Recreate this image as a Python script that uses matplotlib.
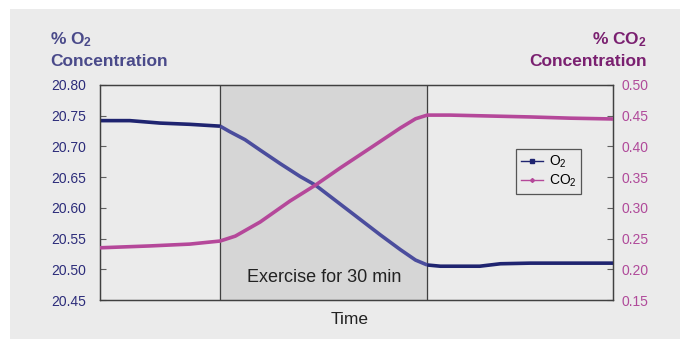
import matplotlib
matplotlib.use("Agg")
import matplotlib.pyplot as plt
from matplotlib.patches import Rectangle
from matplotlib.lines import Line2D
import numpy as np

plt.rcParams['font.family'] = ['Liberation Sans', 'DejaVu Sans']
plt.rcParams['mathtext.fontset'] = 'custom'
plt.rcParams['mathtext.rm'] = 'Liberation Sans'
plt.rcParams['mathtext.it'] = 'Liberation Sans'
plt.rcParams['mathtext.bf'] = 'Liberation Sans:bold'

# ---- data (minutes) ----
exercise_start = 17.4
exercise_end = 47.4
time_max = 74.3

o2_time = [0, 4.3, 8.7, 13.0, 17.4, 18.8, 21.0, 23.2, 26.1, 29.0, 31.2, 36.2,
           40.6, 43.5, 45.7, 47.4, 49.3, 55.0, 58.0, 62.3, 68.1, 74.3]
o2_vals = [20.742, 20.742, 20.738, 20.736, 20.733, 20.724, 20.711, 20.694, 20.672,
           20.651, 20.637, 20.594, 20.556, 20.532, 20.515, 20.507, 20.505, 20.505,
           20.509, 20.510, 20.510, 20.510]

co2_time = [0, 7.2, 13.0, 17.4, 19.6, 23.2, 27.5, 31.2, 34.8, 39.1, 43.5, 45.7,
            47.4, 50.7, 56.5, 62.3, 68.1, 74.3]
co2_vals = [0.235, 0.238, 0.241, 0.246, 0.254, 0.277, 0.311, 0.337, 0.365, 0.397,
            0.430, 0.445, 0.451, 0.451, 0.4495, 0.448, 0.446, 0.4447]

o2_ticks = [20.45, 20.50, 20.55, 20.60, 20.65, 20.70, 20.75, 20.80]
co2_ticks = [0.15, 0.20, 0.25, 0.30, 0.35, 0.40, 0.45, 0.50]

# ---- styling ----
BG = '#ebebeb'
SHADE = '#d6d6d6'
O2_COL = '#1f2470'
O2_COL_EX = '#4b4d9d'
CO2_COL = '#b5489a'
LEFT_TXT = '#2c2c7a'
RIGHT_TXT = '#b04a9a'
TITLE_L = '#4a4a8a'
TITLE_R = '#7a2070'

fig = plt.figure(figsize=(6.8, 3.4), dpi=100)
fig.patch.set_facecolor('white')
fig.patches.append(Rectangle((10/680, 1/340), 670/680, 1 - 10/340, transform=fig.transFigure,
                             facecolor=BG, edgecolor='none', zorder=-10))

ax = fig.add_axes([100/680, 1 - 300/340, 513/680, 215/340])
ax.set_facecolor(BG)
ax2 = ax.twinx()

ax.axvspan(exercise_start, exercise_end, color=SHADE, zorder=0)
ax.axvline(exercise_start, color='#404040', lw=0.9, zorder=1)
ax.axvline(exercise_end, color='#404040', lw=0.9, zorder=1)

# O2 line, lighter inside exercise region
ot = np.array(o2_time); ov = np.array(o2_vals)
mask_pre = ot <= exercise_start
mask_ex = (ot >= exercise_start) & (ot <= exercise_end)
mask_post = ot >= exercise_end
ax.plot(ot[mask_pre], ov[mask_pre], color=O2_COL, lw=2.6, zorder=3, solid_capstyle='butt')
ax.plot(ot[mask_ex], ov[mask_ex], color=O2_COL_EX, lw=2.6, zorder=3, solid_capstyle='butt')
ax.plot(ot[mask_post], ov[mask_post], color=O2_COL, lw=2.6, zorder=3, solid_capstyle='butt')

ax2.plot(co2_time, co2_vals, color=CO2_COL, lw=2.6, zorder=3)

ax.set_xlim(0, time_max)
ax.set_ylim(20.45, 20.80)
ax2.set_ylim(0.15, 0.50)
ax.set_yticks(o2_ticks)
ax.set_yticklabels([f'{v:.2f}' for v in o2_ticks])
ax2.set_yticks(co2_ticks)
ax2.set_yticklabels([f'{v:.2f}' for v in co2_ticks])
ax.set_xticks([])

for a in (ax, ax2):
    for s in a.spines.values():
        s.set_color('#404040')
        s.set_linewidth(0.9)
ax.tick_params(axis='y', direction='in', length=4, width=0.8, color='#606060',
               labelsize=10, labelcolor=LEFT_TXT, pad=10)
ax2.tick_params(axis='y', direction='in', length=4, width=0.8, color='#606060',
                labelsize=10, labelcolor=RIGHT_TXT, pad=6)

ax.text((exercise_start + exercise_end) / 2, 20.486, 'Exercise for 30 min',
        ha='center', va='center', fontsize=13, color='#222222', zorder=5)

fig.text(350/680, 1 - 320/340, 'Time', ha='center', va='center', fontsize=12.5, color='#222222')

title_font = ['Liberation Sans Narrow', 'Liberation Sans', 'DejaVu Sans']
fig.text(50/680, 1 - 40/340, r'% O$_\mathbf{2}$', ha='left', va='center', fontsize=12.5,
         fontweight='bold', color=TITLE_L, family=title_font)
fig.text(50/680, 1 - 62/340, 'Concentration', ha='left', va='center', fontsize=12.5,
         fontweight='bold', color=TITLE_L, family=title_font)
fig.text(647/680, 1 - 40/340, r'% CO$_\mathbf{2}$', ha='right', va='center', fontsize=12.5,
         fontweight='bold', color=TITLE_R, family=title_font)
fig.text(647/680, 1 - 62/340, 'Concentration', ha='right', va='center', fontsize=12.5,
         fontweight='bold', color=TITLE_R, family=title_font)

handles = [Line2D([0], [0], color=O2_COL, lw=1, marker='s', markersize=3),
           Line2D([0], [0], color=CO2_COL, lw=1, marker='D', markersize=2)]
leg = ax2.legend(handles, [r'O$_2$', r'CO$_2$'], loc='upper left',
                 bbox_to_anchor=((516 - 100) / 513, (300 - 149) / 215),
                 frameon=True, fancybox=False, fontsize=10, handlelength=1.6,
                 borderpad=0.35, labelspacing=0.2, handletextpad=0.4, borderaxespad=0)
leg.get_frame().set_edgecolor('#303030')
leg.get_frame().set_facecolor(BG)
leg.get_frame().set_linewidth(0.9)

fig.savefig('out.png', dpi=100, facecolor='white')
